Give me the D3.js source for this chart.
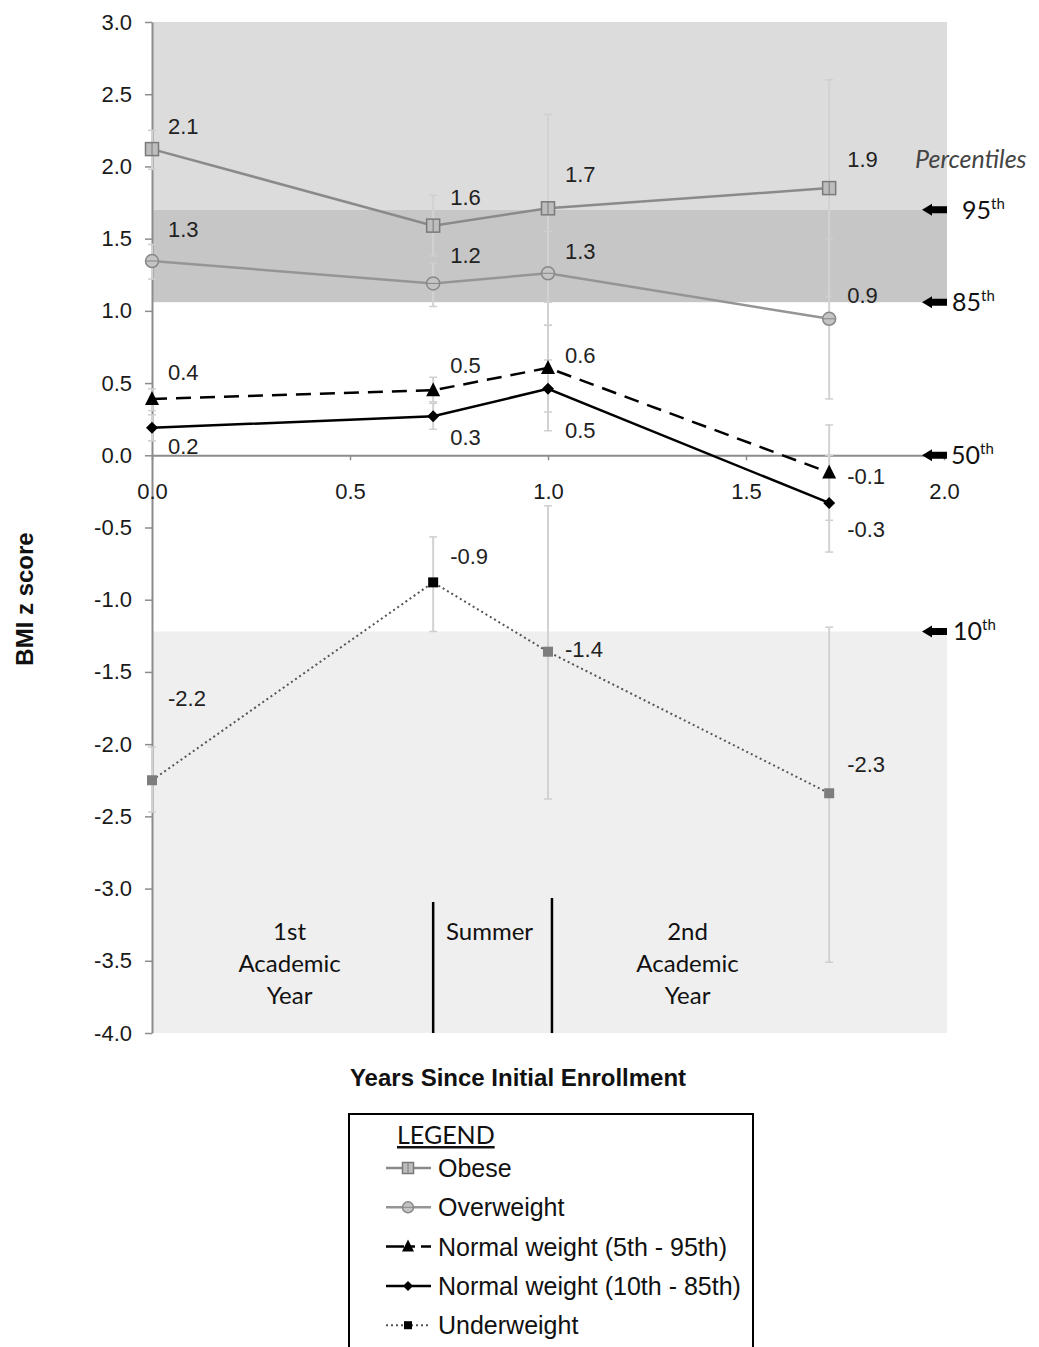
<!DOCTYPE html>
<html>
<head>
<meta charset="utf-8">
<script src="https://cdn.jsdelivr.net/npm/d3@7"></script>
<style>
  body { margin: 0; background: #fff; }
  svg { display: block; }
</style>
</head>
<body>
<svg id="chart" width="1039" height="1347"></svg>
<script>
/**
 * BMI z score by years since initial enrollment, five weight groups.
 */

// Data.
var years = [0, 0.71, 1.0, 1.71];

var obese = [2.12, 1.59, 1.71, 1.85];
var obeseLow = [1.98, 1.38, 1.06, 1.10];
var obeseHigh = [2.25, 1.80, 2.36, 2.60];
var obeseLabels = ['2.1', '1.6', '1.7', '1.9'];

var overweight = [1.345, 1.19, 1.26, 0.945];
var overweightLow = [1.22, 1.03, 0.90, 0.39];
var overweightHigh = [1.46, 1.33, 1.55, 1.50];
var overweightLabels = ['1.3', '1.2', '1.3', '0.9'];

var normal5to95 = [0.39, 0.45, 0.605, -0.12];
var normal5to95Low = [0.31, 0.37, 0.30, -0.45];
var normal5to95High = [0.46, 0.54, 0.90, 0.21];
var normal5to95Labels = ['0.4', '0.5', '0.6', '-0.1'];

var normal10to85 = [0.19, 0.27, 0.46, -0.33];
var normal10to85Low = [0.10, 0.18, 0.17, -0.67];
var normal10to85High = [0.28, 0.36, 0.66, 0.0];
var normal10to85Labels = ['0.2', '0.3', '0.5', '-0.3'];

var underweight = [-2.25, -0.88, -1.36, -2.34];
var underweightLow = [-2.47, -1.22, -2.38, -3.51];
var underweightHigh = [-2.02, -0.565, -0.35, -1.19];
var underweightLabels = ['-2.2', '-0.9', '-1.4', '-2.3'];

// Percentile cut points (z score) and their names.
var percentileValues = [1.7, 1.06, 0, -1.22];
var percentileNames = ['95', '85', '50', '10'];

var yTicks = d3.range(-4, 3.01, 0.5);
var xTicks = [0, 0.5, 1, 1.5, 2];

// Periods of the study (bounds in years).
var periodBounds = [0, 0.71, 1.01, 1.71];
var periodNames = [['1st', 'Academic', 'Year'], ['Summer'], ['2nd', 'Academic', 'Year']];

// Layout.
var LEFT = 152, RIGHT = 944, TOP = 22, BOTTOM = 1033;
var FONT = 'Liberation Sans, Arial, sans-serif';
var CAL = 'Lato, Open Sans, sans-serif';

var svg = d3.select('#chart');
var x = d3.scaleLinear().domain([0, 2]).range([LEFT, RIGHT]);
var y = d3.scaleLinear().domain([-4, 3]).range([BOTTOM, TOP]);
var fmt = function(d) { return d.toFixed(1); };

// Styles of each series, with value label offsets (px) per point.
var seriesList = [
  {name: 'Obese', values: obese, low: obeseLow, high: obeseHigh, labels: obeseLabels,
   stroke: '#8a8a8a', dash: null, width: 2.5, symbol: 'square', fill: '#bdbdbd', mstroke: '#7a7a7a', size: 13,
   dy: [-23, -29, -34, -29]},
  {name: 'Overweight', values: overweight, low: overweightLow, high: overweightHigh, labels: overweightLabels,
   stroke: '#959595', dash: null, width: 2.5, symbol: 'circle', fill: '#c4c4c4', mstroke: '#888', size: 13,
   dy: [-32, -28, -22, -24]},
  {name: 'Normal weight (5th - 95th)', values: normal5to95, low: normal5to95Low, high: normal5to95High, labels: normal5to95Labels,
   stroke: '#000', dash: '15,9', width: 2.5, symbol: 'triangle', fill: '#000', mstroke: '#000', size: 14,
   dy: [-27, -25, -13, 3]},
  {name: 'Normal weight (10th - 85th)', values: normal10to85, low: normal10to85Low, high: normal10to85High, labels: normal10to85Labels,
   stroke: '#000', dash: null, width: 2.5, symbol: 'diamond', fill: '#000', mstroke: '#000', size: 12,
   dy: [18, 21, 41, 26]},
  {name: 'Underweight', values: underweight, low: underweightLow, high: underweightHigh, labels: underweightLabels,
   stroke: '#555', dash: '2,3', width: 2, symbol: 'square', fill: '#888', mstroke: 'none', size: 10,
   dy: [-82, -26, -3, -29]}
];
var LABEL_DX = [16, 17, 17, 18];
// The summer point of the underweight group is drawn black.
var underweightMarkerFill = ['#7d7d7d', '#000', '#7d7d7d', '#7d7d7d'];

/**
 * drawMarker
 * ==========
 * Appends one marker of a given shape centred on (cx, cy).
 */
var drawMarker = function(g, s, cx, cy, fill) {
  var h = s.size / 2;
  if (s.symbol === 'square') {
    g.append('rect').attr('x', cx - h).attr('y', cy - h)
      .attr('width', s.size).attr('height', s.size)
      .attr('fill', fill || s.fill).attr('stroke', s.mstroke).attr('stroke-width', 1.5);
    if (s.name === 'Obese') {
      g.append('line').attr('x1', cx).attr('x2', cx).attr('y1', cy - h).attr('y2', cy + h)
        .attr('stroke', s.mstroke).attr('stroke-width', 1);
    }
  } else if (s.symbol === 'circle') {
    g.append('circle').attr('cx', cx).attr('cy', cy).attr('r', h)
      .attr('fill', s.fill).attr('stroke', s.mstroke).attr('stroke-width', 1.5);
    g.append('line').attr('x1', cx - h).attr('x2', cx + h).attr('y1', cy).attr('y2', cy)
      .attr('stroke', s.mstroke).attr('stroke-width', 1);
  } else if (s.symbol === 'triangle') {
    g.append('path').attr('d', 'M' + cx + ',' + (cy - h - 1) + 'L' + (cx + h) + ',' + (cy + h - 1) + 'L' + (cx - h) + ',' + (cy + h - 1) + 'Z')
      .attr('fill', s.fill);
  } else {
    g.append('path').attr('d', 'M' + cx + ',' + (cy - h) + 'L' + (cx + h) + ',' + cy + 'L' + cx + ',' + (cy + h) + 'L' + (cx - h) + ',' + cy + 'Z')
      .attr('fill', s.fill);
  }
};

// Shaded percentile bands.
var bands = [
  {top: 3, bottom: percentileValues[0], color: '#dcdcdc'},
  {top: percentileValues[0], bottom: percentileValues[1], color: '#c6c6c6'},
  {top: percentileValues[3], bottom: -4, color: '#efefef'}
];
svg.selectAll('rect.band').data(bands).enter().append('rect')
  .attr('class', 'band')
  .attr('x', LEFT)
  .attr('width', x(2) + 3 - LEFT)
  .attr('y', function(d) { return y(d.top); })
  .attr('height', function(d) { return y(d.bottom) - y(d.top); })
  .attr('fill', function(d) { return d.color; });

// Y axis.
var yAxis = svg.append('g').attr('transform', 'translate(' + LEFT + ',0)')
  .call(d3.axisLeft(y).tickValues(yTicks).tickFormat(fmt).tickSize(7).tickSizeOuter(0).tickPadding(13));
yAxis.select('.domain').attr('stroke', '#8c8c8c').attr('stroke-width', 2);
yAxis.selectAll('.tick line').attr('stroke', '#8c8c8c').attr('stroke-width', 1.5);
yAxis.selectAll('.tick text').attr('font-family', FONT).attr('font-size', 22).attr('fill', '#1a1a1a');

// X axis on the zero line.
var xAxis = svg.append('g').attr('transform', 'translate(0,' + y(0) + ')')
  .call(d3.axisBottom(x).tickValues(xTicks).tickFormat(fmt).tickSize(5).tickSizeOuter(0).tickPadding(23));
xAxis.select('.domain').attr('stroke', '#8c8c8c').attr('stroke-width', 2);
xAxis.selectAll('.tick line').attr('stroke', '#8c8c8c').attr('stroke-width', 1.5);
xAxis.selectAll('.tick text').attr('font-family', FONT).attr('font-size', 22).attr('fill', '#1a1a1a');

// Period dividers and names.
var periodBreaks = periodBounds.slice(1, 3);
svg.selectAll('line.period').data(periodBreaks).enter().append('line')
  .attr('x1', function(d) { return x(d); }).attr('x2', function(d) { return x(d); })
  .attr('y1', function(d, i) { return i === 0 ? 902 : 898; }).attr('y2', BOTTOM)
  .attr('stroke', '#000').attr('stroke-width', 2.5);
periodNames.forEach(function(lines, i) {
  var end = i < 2 ? periodBounds[i + 1] : periodBounds[3];
  var cx = (x(periodBounds[i]) + x(end)) / 2 - 3;
  var t = svg.append('text').attr('text-anchor', 'middle')
    .attr('font-family', CAL).attr('font-size', 24).attr('fill', '#111');
  lines.forEach(function(line, j) {
    t.append('tspan').attr('x', cx).attr('y', 940 + j * 32).text(line);
  });
});

// Error bars.
seriesList.forEach(function(s) {
  var g = svg.append('g');
  years.forEach(function(yr, i) {
    var cx = x(yr);
    g.append('line').attr('x1', cx).attr('x2', cx)
      .attr('y1', y(s.high[i])).attr('y2', y(s.low[i]))
      .attr('stroke', '#d2d2d2').attr('stroke-width', 2);
    [s.high[i], s.low[i]].forEach(function(v) {
      g.append('line').attr('x1', cx - 4).attr('x2', cx + 4)
        .attr('y1', y(v)).attr('y2', y(v))
        .attr('stroke', '#cfcfcf').attr('stroke-width', 1.5);
    });
  });
});

// Lines, markers and value labels.
var line = d3.line()
  .x(function(d, i) { return x(years[i]); })
  .y(function(d) { return y(d); });

seriesList.forEach(function(s) {
  svg.append('path').datum(s.values)
    .attr('d', line)
    .attr('fill', 'none')
    .attr('stroke', s.stroke)
    .attr('stroke-width', s.width)
    .attr('stroke-dasharray', s.dash);
  var g = svg.append('g');
  s.values.forEach(function(v, i) {
    drawMarker(g, s, x(years[i]), y(v), s.name === 'Underweight' ? underweightMarkerFill[i] : null);
  });
  svg.selectAll(null).data(s.values).enter().append('text')
    .attr('x', function(d, i) { return x(years[i]) + LABEL_DX[i]; })
    .attr('y', function(d, i) { return y(d) + s.dy[i] + 8; })
    .attr('font-family', FONT).attr('font-size', 22).attr('fill', '#222')
    .text(function(d, i) { return s.labels[i]; });
});

// Percentile arrows.
var arrows = svg.append('g');
var arrowLabelX = [962, 952, 951, 953];
percentileValues.forEach(function(p, i) {
  var py = y(p);
  arrows.append('path')
    .attr('d', 'M922,' + py + 'L932,' + (py - 6) + 'L932,' + (py - 3.5) + 'L947,' + (py - 3.5) +
      'L947,' + (py + 3.5) + 'L932,' + (py + 3.5) + 'L932,' + (py + 6) + 'Z')
    .attr('fill', '#000');
  var t = arrows.append('text').attr('x', arrowLabelX[i]).attr('y', py + 9)
    .attr('font-family', CAL).attr('font-size', 25).attr('fill', '#111');
  t.append('tspan').text(percentileNames[i]);
  t.append('tspan').attr('dy', -10).attr('font-size', 15).text('th');
});
arrows.append('text').attr('x', 915).attr('y', 168)
  .attr('font-family', CAL).attr('font-style', 'italic').attr('font-size', 25).attr('fill', '#444')
  .text('Percentiles');

// Axis titles.
svg.append('text')
  .attr('transform', 'translate(33,599) rotate(-90)')
  .attr('text-anchor', 'middle')
  .attr('font-family', FONT).attr('font-weight', 'bold').attr('font-size', 24).attr('fill', '#111')
  .text('BMI z score');
svg.append('text')
  .attr('x', 518).attr('y', 1086)
  .attr('text-anchor', 'middle')
  .attr('font-family', FONT).attr('font-weight', 'bold').attr('font-size', 24).attr('fill', '#111')
  .text('Years Since Initial Enrollment');

// Legend.
var legend = svg.append('g');
legend.append('path')
  .attr('d', 'M349,1360L349,1114L753,1114L753,1360')
  .attr('fill', 'none').attr('stroke', '#000').attr('stroke-width', 2);
legend.append('text').attr('x', 397).attr('y', 1144)
  .attr('font-family', CAL).attr('font-size', 25).attr('fill', '#111')
  .attr('text-decoration', 'underline')
  .text('LEGEND');
seriesList.forEach(function(s, i) {
  var ly = 1168 + i * 39.3;
  legend.append('line').attr('x1', 386).attr('x2', 431).attr('y1', ly).attr('y2', ly)
    .attr('stroke', s.stroke).attr('stroke-width', s.name === 'Underweight' ? 2 : 2.5)
    .attr('stroke-dasharray', s.name === 'Underweight' ? '2,3' : (s.dash ? '18,6,5,6' : null));
  var ms = {name: s.name, symbol: s.symbol, fill: s.fill, mstroke: s.mstroke, size: s.size - 2};
  drawMarker(legend, ms, 408, ly, s.name === 'Underweight' ? '#000' : null);
  legend.append('text').attr('x', 438).attr('y', ly + 9)
    .attr('font-family', FONT).attr('font-size', 25).attr('fill', '#111')
    .text(s.name);
});
</script>
</body>
</html>
